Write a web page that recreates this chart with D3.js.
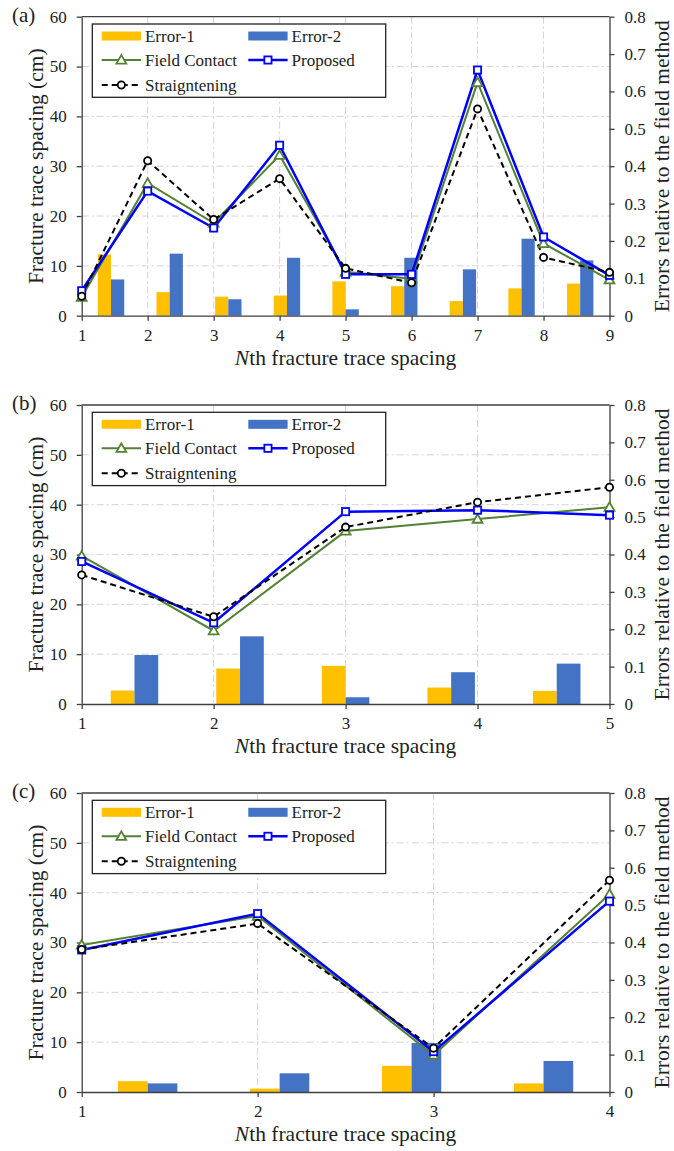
<!DOCTYPE html>
<html>
<head>
  <script src="https://d3js.org/d3.v7.min.js" type="text/javascript"></script>
  <style>
    body { margin: 0; background: #fff; }
    svg, svg text { font-family: "Liberation Serif", "Tinos", "DejaVu Serif", "Times New Roman", serif !important; }
  </style>
</head>
<body>
<svg id="svg" width="674" height="1151"></svg>

<script type="text/javascript">
// ---- data ----
// left axis: fracture trace spacing (cm), right axis: errors
var leftTicks = [0, 10, 20, 30, 40, 50, 60];
var rightTicks = [0, 0.1, 0.2, 0.3, 0.4, 0.5, 0.6, 0.7, 0.8];
var rightTickLabels = ["0", "0.1", "0.2", "0.3", "0.4", "0.5", "0.6", "0.7", "0.8"];

// panel (a)
var aCategories = [1, 2, 3, 4, 5, 6, 7, 8, 9];
var aFieldContact = [3.7, 26.6, 18.6, 32.2, 8.8, 7.4, 46.8, 14.5, 7.2];
var aProposed = [5.0, 25.0, 17.6, 34.2, 8.3, 8.3, 49.3, 15.8, 8.1];
var aStraightening = [3.9, 31.1, 19.3, 27.5, 9.5, 6.6, 41.5, 11.7, 8.7];
var aError1 = [0.164, 0.063, 0.051, 0.054, 0.092, 0.079, 0.039, 0.073, 0.086];
var aError2 = [0.097, 0.166, 0.044, 0.155, 0.017, 0.155, 0.124, 0.206, 0.148];

// panel (b)
var bCategories = [1, 2, 3, 4, 5];
var bFieldContact = [29.7, 14.7, 34.7, 37.1, 39.5];
var bProposed = [28.6, 16.3, 38.6, 38.9, 37.9];
var bStraightening = [25.9, 17.5, 35.5, 40.5, 43.5];
var bError1 = [0.036, 0.095, 0.102, 0.044, 0.035];
var bError2 = [0.131, 0.181, 0.018, 0.085, 0.108];

// panel (c)
var cCategories = [1, 2, 3, 4];
var cFieldContact = [29.5, 35.3, 7.4, 39.7];
var cProposed = [28.5, 35.8, 8.1, 38.3];
var cStraightening = [28.6, 33.8, 8.8, 42.5];
var cError1 = [0.029, 0.009, 0.070, 0.023];
var cError2 = [0.023, 0.050, 0.131, 0.083];

var colError1 = "#FFC000";
var colError2 = "#4472C4";
var colField = "#548235";
var colProposed = "#0000FF";
var colStraight = "#000000";

var svg = d3.select("svg");
svg.append("rect").attr("width", 674).attr("height", 1151).attr("fill", "#fff");

var x0 = 81.7, x1 = 609.5, plotH = 299;

function drawPanel(label, top, cats, field, proposed, straight, err1, err2) {
  var bottom = top + plotH;
  var g = svg.append("g");

  var x = d3.scaleLinear().domain([cats[0], cats[cats.length - 1]]).range([x0, x1]);
  var yL = d3.scaleLinear().domain([0, 60]).range([bottom, top]);
  var yR = d3.scaleLinear().domain([0, 0.8]).range([bottom, top]);

  // bars sit on their own category axis spanning the whole plot
  var band = d3.scaleBand().domain(d3.range(cats.length)).range([x0, x1])
               .paddingInner(0.55).paddingOuter(0.275);
  var sub = d3.scaleBand().domain([0, 1]).range([0, band.bandwidth()]);

  // gridlines (dash-dot)
  g.append("g").selectAll("line")
    .data(leftTicks.slice(1, -1))
    .enter().append("line")
      .attr("x1", x0).attr("x2", x1)
      .attr("y1", function(d) { return yL(d); })
      .attr("y2", function(d) { return yL(d); })
      .attr("stroke", "#d4d4d4").attr("stroke-width", 1)
      .attr("stroke-dasharray", "7,3,2,3");
  g.append("g").selectAll("line")
    .data(cats.slice(1, -1))
    .enter().append("line")
      .attr("x1", function(d) { return x(d); })
      .attr("x2", function(d) { return x(d); })
      .attr("y1", top).attr("y2", bottom)
      .attr("stroke", "#d4d4d4").attr("stroke-width", 1)
      .attr("stroke-dasharray", "7,3,2,3");

  // bars
  var bars = g.append("g");
  bars.selectAll("rect.e1").data(err1).enter().append("rect")
    .attr("x", function(d, i) { return band(i) + sub(0); })
    .attr("width", sub.bandwidth())
    .attr("y", function(d) { return yR(d); })
    .attr("height", function(d) { return bottom - yR(d); })
    .attr("fill", colError1);
  bars.selectAll("rect.e2").data(err2).enter().append("rect")
    .attr("x", function(d, i) { return band(i) + sub(1); })
    .attr("width", sub.bandwidth())
    .attr("y", function(d) { return yR(d); })
    .attr("height", function(d) { return bottom - yR(d); })
    .attr("fill", colError2);

  // axes
  var axL = g.append("g").attr("transform", "translate(" + x0 + ",0)")
    .call(d3.axisLeft(yL).tickValues(leftTicks).tickSize(5).tickSizeOuter(0).tickPadding(10));
  var axR = g.append("g").attr("transform", "translate(" + x1 + ",0)")
    .call(d3.axisRight(yR).tickValues(rightTicks).tickSize(5).tickSizeOuter(0).tickPadding(10)
      .tickFormat(function(d, i) { return rightTickLabels[i]; }));
  var axB = g.append("g").attr("transform", "translate(0," + bottom + ")")
    .call(d3.axisBottom(x).tickValues(cats).tickSize(5).tickSizeOuter(0).tickPadding(8)
      .tickFormat(d3.format("d")));
  [axL, axR, axB].forEach(function(a) {
    a.attr("font-family", null).attr("font-size", null);
    a.selectAll("path, line").attr("stroke", "#404040").attr("stroke-width", 1.3);
    a.selectAll("text").attr("fill", "#222").style("font-size", "17px");
  });
  // top border
  g.append("line").attr("x1", x0).attr("x2", x1).attr("y1", top).attr("y2", top)
    .attr("stroke", "#404040").attr("stroke-width", 1.3);

  // lines + markers
  function series(vals, color, width, dash) {
    var line = d3.line()
      .x(function(d, i) { return x(cats[i]); })
      .y(function(d) { return yL(d); });
    g.append("path").datum(vals)
      .attr("d", line).attr("fill", "none")
      .attr("stroke", color).attr("stroke-width", width)
      .attr("stroke-dasharray", dash || null);
  }
  series(field, colField, 2);
  series(proposed, colProposed, 2.5);
  series(straight, colStraight, 2, "6,4");

  var tri = d3.symbol().type(d3.symbolTriangle).size(42);
  g.append("g").selectAll("path").data(field).enter().append("path")
    .attr("d", tri)
    .attr("transform", function(d, i) { return "translate(" + x(cats[i]) + "," + (yL(d) + 0.8) + ")"; })
    .attr("fill", "#fff").attr("stroke", colField).attr("stroke-width", 1.8);
  g.append("g").selectAll("rect").data(proposed).enter().append("rect")
    .attr("x", function(d, i) { return x(cats[i]) - 3.6; })
    .attr("y", function(d) { return yL(d) - 3.6; })
    .attr("width", 7.2).attr("height", 7.2)
    .attr("fill", "#fff").attr("stroke", colProposed).attr("stroke-width", 1.8);
  g.append("g").selectAll("circle").data(straight).enter().append("circle")
    .attr("cx", function(d, i) { return x(cats[i]); })
    .attr("cy", function(d) { return yL(d); })
    .attr("r", 3.6)
    .attr("fill", "#fff").attr("stroke", colStraight).attr("stroke-width", 1.8);

  // legend
  var lx = x0 + 10.6, ly = top + 7.3;
  var lg = g.append("g").attr("transform", "translate(" + lx + "," + ly + ")");
  lg.append("rect").attr("width", 293.4).attr("height", 73.3)
    .attr("fill", "#fff").attr("stroke", "#222").attr("stroke-width", 1.3);
  var rowY = [12, 36, 61];
  var col = [9.4, 156];
  var sw = 39.3;
  function legendText(tx, ty, s) {
    lg.append("text").attr("x", tx).attr("y", ty).attr("dy", "0.35em")
      .style("font-size", "17px").attr("fill", "#222").text(s);
  }
  lg.append("rect").attr("x", col[0]).attr("y", rowY[0] - 4.5).attr("width", sw).attr("height", 9).attr("fill", colError1);
  legendText(col[0] + sw + 4, rowY[0], "Error-1");
  lg.append("rect").attr("x", col[1]).attr("y", rowY[0] - 4.5).attr("width", sw).attr("height", 9).attr("fill", colError2);
  legendText(col[1] + sw + 4, rowY[0], "Error-2");

  lg.append("line").attr("x1", col[0]).attr("x2", col[0] + sw).attr("y1", rowY[1]).attr("y2", rowY[1])
    .attr("stroke", colField).attr("stroke-width", 2);
  lg.append("path").attr("d", tri)
    .attr("transform", "translate(" + (col[0] + sw / 2) + "," + (rowY[1] + 0.8) + ")")
    .attr("fill", "#fff").attr("stroke", colField).attr("stroke-width", 1.8);
  legendText(col[0] + sw + 4, rowY[1], "Field Contact");

  lg.append("line").attr("x1", col[1]).attr("x2", col[1] + sw).attr("y1", rowY[1]).attr("y2", rowY[1])
    .attr("stroke", colProposed).attr("stroke-width", 2.5);
  lg.append("rect").attr("x", col[1] + sw / 2 - 3.6).attr("y", rowY[1] - 3.6).attr("width", 7.2).attr("height", 7.2)
    .attr("fill", "#fff").attr("stroke", colProposed).attr("stroke-width", 1.8);
  legendText(col[1] + sw + 4, rowY[1], "Proposed");

  lg.append("line").attr("x1", col[0]).attr("x2", col[0] + sw).attr("y1", rowY[2]).attr("y2", rowY[2])
    .attr("stroke", colStraight).attr("stroke-width", 2).attr("stroke-dasharray", "6,4");
  lg.append("circle").attr("cx", col[0] + sw / 2).attr("cy", rowY[2]).attr("r", 3.6)
    .attr("fill", "#fff").attr("stroke", colStraight).attr("stroke-width", 1.8);
  legendText(col[0] + sw + 4, rowY[2], "Straigntening");

  // titles
  g.append("text").attr("x", 12).attr("y", top + 5)
    .style("font-size", "21px").attr("fill", "#222").text(label);
  g.append("text")
    .attr("transform", "translate(43," + (top + plotH / 2) + ") rotate(-90)")
    .attr("text-anchor", "middle")
    .style("font-size", "21.5px").attr("fill", "#222")
    .text("Fracture trace spacing (cm)");
  g.append("text")
    .attr("transform", "translate(669," + (top + plotH / 2) + ") rotate(-90)")
    .attr("text-anchor", "middle")
    .style("font-size", "21.5px").attr("fill", "#222")
    .text("Errors relative to the field method");
  var xt = g.append("text").attr("x", (x0 + x1) / 2).attr("y", bottom + 49)
    .attr("text-anchor", "middle").style("font-size", "21.5px").attr("fill", "#222");
  xt.append("tspan").style("font-style", "italic").text("N");
  xt.append("tspan").text("th fracture trace spacing");
}

drawPanel("(a)", 16.7, aCategories, aFieldContact, aProposed, aStraightening, aError1, aError2);
drawPanel("(b)", 405, bCategories, bFieldContact, bProposed, bStraightening, bError1, bError2);
drawPanel("(c)", 793, cCategories, cFieldContact, cProposed, cStraightening, cError1, cError2);
</script>
</body>
</html>
